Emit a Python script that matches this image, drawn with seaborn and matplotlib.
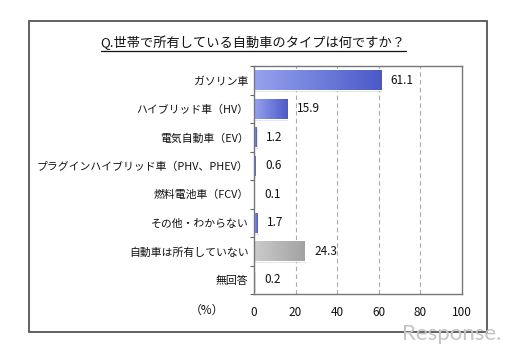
import matplotlib
matplotlib.use("Agg")
import matplotlib.pyplot as plt
import seaborn as sns
import numpy as np
import pandas as pd
from matplotlib.patches import Rectangle
from matplotlib.colors import LinearSegmentedColormap
from matplotlib.ticker import FixedLocator

categories = ["ガソリン車", "ハイブリッド車（HV）", "電気自動車（EV）", "プラグインハイブリッド車（PHV、PHEV）",
              "燃料電池車（FCV）", "その他・わからない", "自動車は所有していない", "無回答"]
values = [61.1, 15.9, 1.2, 0.6, 0.1, 1.7, 24.3, 0.2]
kinds = ["own", "own", "own", "own", "own", "own", "none", "none"]
xticks = [0, 20, 40, 60, 80, 100]
title = "Q.世帯で所有している自動車のタイプは何ですか？"

sns.set_theme(style="white")
plt.rcParams['font.family'] = ['Noto Sans CJK JP', 'DejaVu Sans']

df = pd.DataFrame({"cat": categories, "val": values, "kind": kinds})

fig = plt.figure(figsize=(5.17, 3.52), dpi=100)
ax = fig.add_axes([254/517, 1-294/352, (462-254)/517, (294-66)/352])

pal = {"own": "#6f7fdc", "none": "#b5b5b5"}
sns.barplot(data=df, y="cat", x="val", hue="kind", palette=pal, orient="h",
            width=0.7, ax=ax, legend=False, saturation=1)

ax.set_xlim(0, 100)
ax.set_ylim(len(categories)-0.5, -0.5)

# gradient fills
cmaps = {"own": LinearSegmentedColormap.from_list("b", ["#97a3ee", "#4a59c8"]),
         "none": LinearSegmentedColormap.from_list("g", ["#cccccc", "#a2a2a2"])}
grad = np.linspace(0, 1, 256).reshape(1, -1)
for p in ax.patches:
    w = p.get_width()
    if w <= 0:
        continue
    x0, y0 = p.get_x(), p.get_y()
    h = p.get_height()
    yc = y0 + h/2
    idx = int(round(yc))
    kind = kinds[idx]
    sh = Rectangle((x0 + 0.6, y0 + 0.07), w, h, facecolor="#000000", alpha=0.12,
                   edgecolor="none", zorder=1.5)
    ax.add_patch(sh)
    im = ax.imshow(grad, cmap=cmaps[kind], aspect="auto",
                   extent=(x0, x0 + w, y0 + h, y0), zorder=2, interpolation="bilinear")
    im.set_clip_path(p)
    p.set_zorder(2)
ax.set_xlim(0, 100)
ax.set_ylim(len(categories)-0.5, -0.5)

for i, v in enumerate(values):
    ax.annotate(f"{v:.1f}", xy=(v, i), xytext=(7, 0), textcoords="offset points",
                ha="left", va="center", fontsize=8.5, color="#111111")

ax.set_xticks(xticks)
ax.set_xticklabels([str(t) for t in xticks], fontsize=8.5, color="#111111")
ax.tick_params(axis="x", length=0, pad=9)
ax.tick_params(axis="y", which="major", length=0, pad=4, labelsize=7.8, labelcolor="#111111")
ax.yaxis.set_minor_locator(FixedLocator(np.arange(-0.5, len(categories), 1.0)))
ax.tick_params(axis="y", which="minor", length=3, width=0.8, color="#666666", direction="out", left=True)
ax.set_xlabel("")
ax.set_ylabel("")
for x in xticks[1:-1]:
    ax.axvline(x, color="#aaaaaa", lw=0.8, ls=(0, (4, 3)), zorder=0.5)
for s in ax.spines.values():
    s.set_color("#777777")
    s.set_linewidth(1)
ax.set_facecolor("white")

fig.text(207/517, 1-310/352, "（%）", ha="center", va="center", fontsize=8.5, color="#111111")

t = fig.text(253/517, 1-43/352, title, ha="center", va="center", fontsize=9.5, color="#111111")
fig.canvas.draw()
bb = t.get_window_extent()
inv = fig.transFigure.inverted()
(x0, y0), (x1, y1) = inv.transform([(bb.x0, bb.y0), (bb.x1, bb.y1)])
fig.add_artist(plt.Line2D([x0, x1], [y0 - 0.002, y0 - 0.002], transform=fig.transFigure,
                          color="#111111", lw=0.9))

fig.add_artist(Rectangle((29/517, 1-332/352), (487-29)/517, (332-21)/352, transform=fig.transFigure,
                         fill=False, edgecolor="#555555", lw=1.3))

fig.text(452/517, 1-334/352, "Response.", ha="center", va="center", fontsize=16,
         color="#c4c4c4", family=["Lato", "DejaVu Sans"])

fig.savefig("out.png", dpi=100)
